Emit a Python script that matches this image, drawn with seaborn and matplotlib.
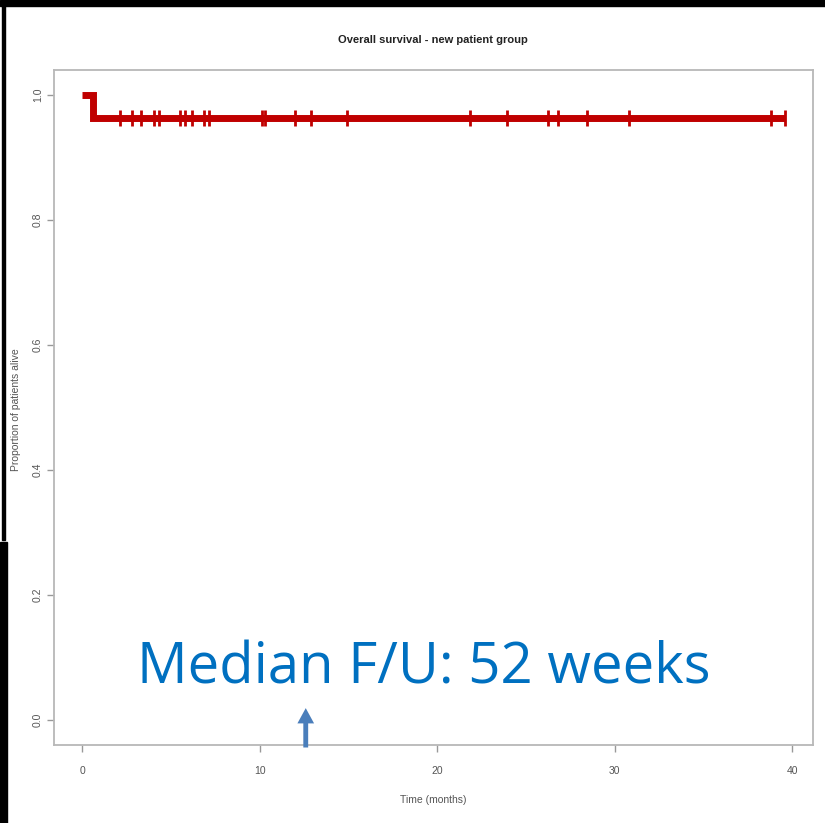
import matplotlib
matplotlib.use("Agg")
import matplotlib.pyplot as plt
import numpy as np
import pandas as pd
import seaborn as sns
from matplotlib.patches import Rectangle

# Kaplan-Meier step (time in months, proportion alive)
step_time = [0.0, 0.6, 39.6]
step_surv = [1.0, 26 / 27, 26 / 27]

# censored follow-up times (months)
censor_time = [2.14, 2.80, 3.32, 4.06, 4.34, 5.52, 5.82, 6.21, 6.89, 7.17,
               10.16, 10.31, 12.0, 12.88, 14.95, 21.86, 23.93, 26.24, 26.83,
               28.43, 30.80, 38.82, 39.61]

x_ticks = [0, 10, 20, 30, 40]
y_ticks = [0.0, 0.2, 0.4, 0.6, 0.8, 1.0]
median_fu_month = 12.6

red = '#C00000'
grey_txt = '#555555'

sns.set_style('white')
plt.rcParams['font.family'] = ['Liberation Sans', 'DejaVu Sans']

km = pd.DataFrame({'time': step_time, 'surv': step_surv})
cens = pd.DataFrame({'time': censor_time})
cens['surv'] = step_surv[1]

fig = plt.figure(figsize=(8.25, 8.23), dpi=100)
ax = fig.add_axes([54 / 825, 78 / 823, 759 / 825, 675 / 823])

sns.lineplot(data=km, x='time', y='surv', drawstyle='steps-post',
             estimator=None, sort=False, color=red, linewidth=5,
             solid_capstyle='butt', solid_joinstyle='miter', ax=ax)
sns.scatterplot(data=cens, x='time', y='surv', marker='|', s=140,
                linewidth=2, color=red, ax=ax, zorder=3)

ax.set_xlim(-1.584, 41.18)
ax.set_ylim(-0.04, 1.04)
ax.set_xticks(x_ticks)
ax.set_xticklabels([str(t) for t in x_ticks])
ax.set_yticks(y_ticks)
ax.set_yticklabels([f'{t:.1f}' for t in y_ticks], rotation=90, va='center')
ax.tick_params(axis='both', direction='out', length=5, width=1,
               bottom=True, left=True,
               color='#999999', labelcolor=grey_txt, labelsize=7.5)
ax.tick_params(axis='x', pad=10)
ax.tick_params(axis='y', pad=3)
for sp in ax.spines.values():
    sp.set_color('#b8b8b8')
    sp.set_linewidth(1.3)

ax.set_xlabel('Time (months)', fontsize=7.5, color=grey_txt)
ax.set_ylabel('Proportion of patients alive', fontsize=7.5, color=grey_txt)
ax.xaxis.set_label_coords(0.5, -(795 - 745) / 675, transform=ax.transAxes)
ax.yaxis.set_label_coords(-(54 - 21) / 759, (745 - 410) / 675,
                          transform=ax.transAxes)
fig.text(433 / 825, 1 - 40 / 823, 'Overall survival - new patient group',
         ha='center', va='center', fontsize=8, fontweight='bold',
         color='#222222')

# annotation
fig.text(137 / 825, 139 / 823, 'Median F/U: 52 weeks', family='Open Sans',
         fontsize=40.5, color='#0070C0', ha='left', va='baseline')
ax.annotate('', xy=(median_fu_month, 0.019), xytext=(median_fu_month, -0.044),
            annotation_clip=False,
            arrowprops=dict(arrowstyle='simple,head_width=1.2,head_length=1.1,tail_width=0.35',
                            color='#4A7EBB', lw=0, shrinkA=0, shrinkB=0))

# slide frame remnants
fig.patches.append(Rectangle((0, 1 - 6 / 823), 1, 6 / 823, transform=fig.transFigure,
                             color='black', zorder=10))
fig.patches.append(Rectangle((2 / 825, 1 - 540 / 823), 3 / 825, 534 / 823,
                             transform=fig.transFigure, color='black', zorder=10))
fig.patches.append(Rectangle((0, 0), 7 / 825, 1 - 542 / 823,
                             transform=fig.transFigure, color='black', zorder=10))

fig.savefig('out.png', dpi=100)
